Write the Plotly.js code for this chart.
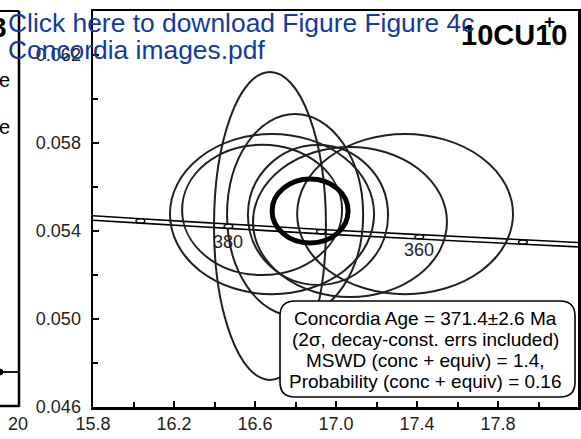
<!DOCTYPE html>
<html><head><meta charset="utf-8">
<script src="https://cdn.plot.ly/plotly-3.0.1.min.js"></script>
<style>html,body{margin:0;padding:0;background:#fff;}#chart{width:581px;height:439px;}</style>
</head><body><div id="chart"></div>
<script>
// ---- data ----
// concordia curve (Tera-Wasserburg) points, ages in Ma
var concAge = [395.6, 390, 380, 370, 360, 350, 344.9];
var concX   = [15.80, 16.034, 16.469, 16.926, 17.411, 17.923, 18.195];
var concY   = [0.054592, 0.054460, 0.054218, 0.053970, 0.053737, 0.053501, 0.053379];
var bandHalf = 0.0001;
// age markers on concordia
var markerAge = [390, 380, 370, 360, 350];
var markerX   = [16.034, 16.469, 16.926, 17.411, 17.923];
var markerY   = [0.054460, 0.054218, 0.053970, 0.053737, 0.053501];
var labelAges = ["380", "360"];
var labelX    = [16.469, 17.411];
var labelY    = [0.053480, 0.053150];
// analysis error ellipses: centre x, centre y, semi-axis x, semi-axis y
var ellX  = [16.674, 16.798, 16.684, 16.635, 17.341, 17.069, 16.911];
var ellY  = [0.05423, 0.05473, 0.05477, 0.05496, 0.05477, 0.05441, 0.05473];
var ellSx = [0.2765, 0.336, 0.504, 0.395, 0.533, 0.479, 0.346];
var ellSy = [0.00700, 0.00459, 0.00364, 0.00296, 0.00364, 0.00341, 0.00318];
// concordia age ellipse
var concEllX = 16.872, concEllY = 0.054909, concEllSx = 0.1877, concEllSy = 0.001455;
// axes
var xTickVals = [15.8, 16.2, 16.6, 17.0, 17.4, 17.8];
var xTickText = ["15.8", "16.2", "16.6", "17.0", "17.4", "17.8"];
var yTickVals = [0.046, 0.050, 0.054, 0.058, 0.062];
var yTickText = ["0.046", "0.050", "0.054", "0.058", "0.062"];
var xMinor = [16.0, 16.4, 16.8, 17.2, 17.6, 18.0];
var yMinor = [0.048, 0.052, 0.056, 0.060];
var boxLines = ["Concordia Age = 371.4\u00b12.6 Ma", "(2\u03c3, decay-const. errs included)", "MSWD (conc + equiv) = 1.4,", "Probability (conc + equiv) = 0.16"];
var sampleName = "10CU10";
var linkLines = ["Click here to download Figure Figure 4c", "Concordia images.pdf"];

// ---- build ----
var L = 93, R = 3, T = 11, B = 32, W = 581, H = 439;
var pw = W - L - R, ph = H - T - B;
function px(xp){ return (xp - L) / pw; }
function py(yp){ return (H - B - yp) / ph; }

var upper = concY.map(function(v){ return v + bandHalf; });
var lower = concY.map(function(v){ return v - bandHalf; });
var traces = [
  {x: concX, y: upper, mode: 'lines', line: {color: '#000', width: 1.6, shape: 'spline'}, hoverinfo: 'skip', showlegend: false},
  {x: concX, y: lower, mode: 'lines', line: {color: '#000', width: 1.6, shape: 'spline'}, hoverinfo: 'skip', showlegend: false}
];

var shapes = [];
for (var i = 0; i < ellX.length; i++) {
  shapes.push({type: 'circle', xref: 'x', yref: 'y', layer: 'above',
    x0: ellX[i] - ellSx[i], x1: ellX[i] + ellSx[i], y0: ellY[i] - ellSy[i], y1: ellY[i] + ellSy[i],
    line: {color: '#231f20', width: 2}});
}
shapes.push({type: 'circle', xref: 'x', yref: 'y', layer: 'above',
  x0: concEllX - concEllSx, x1: concEllX + concEllSx, y0: concEllY - concEllSy, y1: concEllY + concEllSy,
  line: {color: '#000', width: 5}});
for (var j = 0; j < markerX.length; j++) {
  shapes.push({type: 'circle', xref: 'x', yref: 'y', layer: 'above',
    x0: markerX[j] - 0.022, x1: markerX[j] + 0.022, y0: markerY[j] - 0.00009, y1: markerY[j] + 0.00009,
    fillcolor: '#fff', line: {color: '#000', width: 1.3}});
}
// rounded result box
(function(){
  var x0 = px(280), x1 = px(575), y0 = py(397), y1 = py(301);
  var rx = 15 / pw, ry = 15 / ph;
  var p = 'M ' + (x0 + rx) + ',' + y0 + ' L ' + (x1 - rx) + ',' + y0 + ' Q ' + x1 + ',' + y0 + ' ' + x1 + ',' + (y0 + ry) +
    ' L ' + x1 + ',' + (y1 - ry) + ' Q ' + x1 + ',' + y1 + ' ' + (x1 - rx) + ',' + y1 +
    ' L ' + (x0 + rx) + ',' + y1 + ' Q ' + x0 + ',' + y1 + ' ' + x0 + ',' + (y1 - ry) +
    ' L ' + x0 + ',' + (y0 + ry) + ' Q ' + x0 + ',' + y0 + ' ' + (x0 + rx) + ',' + y0 + ' Z';
  shapes.push({type: 'path', xref: 'paper', yref: 'paper', layer: 'above', path: p,
    fillcolor: '#fff', line: {color: '#000', width: 1.6}});
})();
// left neighbouring panel fragments
shapes.push({type: 'line', xref: 'paper', yref: 'paper', x0: px(19), x1: px(19), y0: py(407), y1: py(11), line: {color: '#000', width: 2.5}});
shapes.push({type: 'line', xref: 'paper', yref: 'paper', x0: px(-2), x1: px(19), y0: py(11), y1: py(11), line: {color: '#000', width: 2}});
shapes.push({type: 'line', xref: 'paper', yref: 'paper', x0: px(-2), x1: px(19), y0: py(406), y1: py(406), line: {color: '#000', width: 2.5}});
shapes.push({type: 'line', xref: 'paper', yref: 'paper', x0: px(-2), x1: px(19), y0: py(372), y1: py(372), line: {color: '#000', width: 1.8}});
shapes.push({type: 'circle', xref: 'paper', yref: 'paper', x0: px(-3), x1: px(3), y0: py(375), y1: py(369), fillcolor: '#000', line: {color: '#000', width: 1}});

var F = 'Arial, "Liberation Sans", Helvetica, sans-serif';
var ann = [];
var boxYs = [318, 339.5, 360.5, 381];
boxLines.forEach(function(t, k){
  ann.push({text: t, xref: 'paper', yref: 'paper', x: px(425), y: py(boxYs[k]), xanchor: 'center', yanchor: 'middle',
    showarrow: false, font: {family: F, size: 19, color: '#000'}});
});
for (var m = 0; m < labelAges.length; m++) {
  ann.push({text: labelAges[m], xref: 'x', yref: 'y', x: labelX[m], y: labelY[m], xanchor: 'center', yanchor: 'middle',
    showarrow: false, font: {family: F, size: 18, color: '#231f20'}});
}
ann.push({text: '<b>' + sampleName + '</b>', xref: 'paper', yref: 'paper', x: px(569), y: py(35), xanchor: 'right', yanchor: 'middle',
  showarrow: false, font: {family: F, size: 29, color: '#000'}});
ann.push({text: '<b>+</b>', xref: 'paper', yref: 'paper', x: px(549), y: py(21), xanchor: 'center', yanchor: 'middle',
  showarrow: false, font: {family: F, size: 19, color: '#000'}});
ann.push({text: '<b>3</b>', xref: 'paper', yref: 'paper', x: px(9), y: py(27), xanchor: 'right', yanchor: 'middle',
  showarrow: false, font: {family: F, size: 28, color: '#000'}});
ann.push({text: 'e', xref: 'paper', yref: 'paper', x: px(12), y: py(80), xanchor: 'right', yanchor: 'middle',
  showarrow: false, font: {family: F, size: 20, color: '#000'}});
ann.push({text: 'e', xref: 'paper', yref: 'paper', x: px(12), y: py(127), xanchor: 'right', yanchor: 'middle',
  showarrow: false, font: {family: F, size: 20, color: '#000'}});
ann.push({text: '20', xref: 'paper', yref: 'paper', x: px(18), y: py(424), xanchor: 'center', yanchor: 'middle',
  showarrow: false, font: {family: F, size: 18, color: '#231f20'}});
ann.push({text: linkLines[0], xref: 'paper', yref: 'paper', x: px(6), y: py(23), xanchor: 'left', yanchor: 'middle',
  showarrow: false, font: {family: F, size: 26.4, color: '#113ba0'}});
ann.push({text: linkLines[1], xref: 'paper', yref: 'paper', x: px(6), y: py(50), xanchor: 'left', yanchor: 'middle',
  showarrow: false, font: {family: F, size: 26.4, color: '#113ba0'}});

var layout = {
  width: W, height: H,
  margin: {l: L, r: R, t: T, b: B, pad: 0},
  paper_bgcolor: '#fff', plot_bgcolor: '#fff',
  showlegend: false,
  font: {family: F, color: '#231f20'},
  xaxis: {range: [15.8, 18.195], tickmode: 'array', tickvals: xTickVals, ticktext: xTickText,
    ticks: 'inside', ticklen: 6, tickwidth: 2, tickcolor: '#000',
    showline: true, linewidth: 2.5, linecolor: '#000', mirror: true,
    showgrid: false, zeroline: false, ticklabelstandoff: -1,
    tickfont: {family: F, size: 18, color: '#231f20'},
    minor: {tickmode: 'array', tickvals: xMinor, ticks: 'inside', ticklen: 5, tickwidth: 2, tickcolor: '#000', showgrid: false}},
  yaxis: {range: [0.046, 0.064], tickmode: 'array', tickvals: yTickVals, ticktext: yTickText,
    ticks: 'inside', ticklen: 6, tickwidth: 2, tickcolor: '#000',
    showline: true, linewidth: 2.5, linecolor: '#000', mirror: true,
    showgrid: false, zeroline: false, ticklabelstandoff: 6,
    tickfont: {family: F, size: 18, color: '#231f20'},
    minor: {tickmode: 'array', tickvals: yMinor, ticks: 'inside', ticklen: 5, tickwidth: 2, tickcolor: '#000', showgrid: false}},
  shapes: shapes,
  annotations: ann
};
Plotly.newPlot('chart', traces, layout, {staticPlot: true, displayModeBar: false});
</script>
</body></html>
